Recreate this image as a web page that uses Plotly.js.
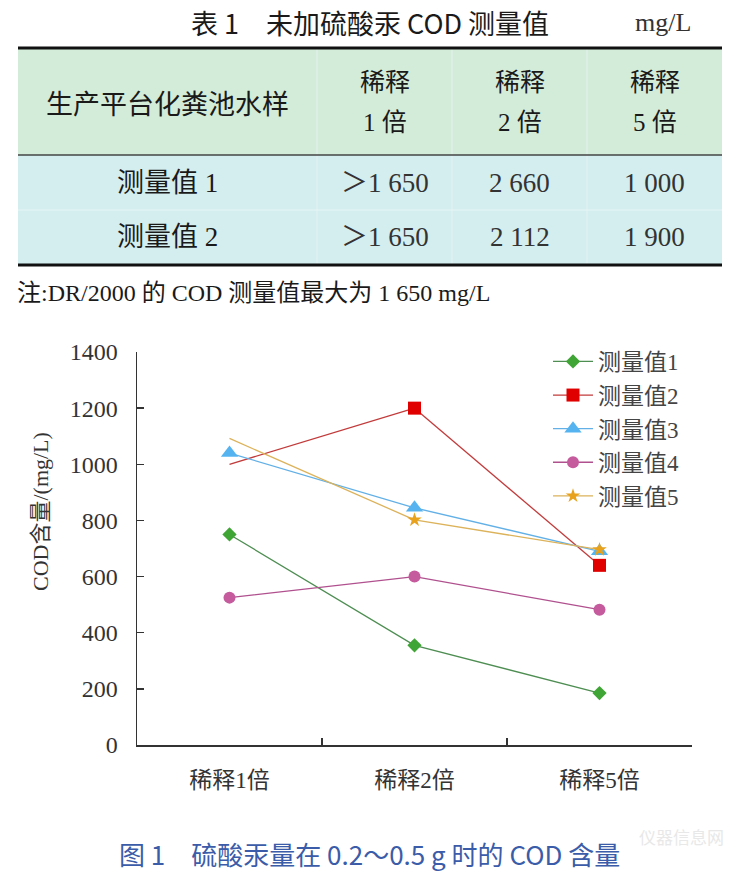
<!DOCTYPE html>
<html><head><meta charset="utf-8">
<script src="https://cdn.plot.ly/plotly-3.0.1.min.js"></script>
<style>html,body{margin:0;padding:0;background:#fff}#chart{width:737px;height:873px}</style>
</head><body><div id="chart"></div>
<script>
// ---- chart data ----
const categories = ['稀释1倍', '稀释2倍', '稀释5倍'];
const seriesNames = ['测量值1', '测量值2', '测量值3', '测量值4', '测量值5'];
const s1 = [750, 355, 185];
const s2 = [1000, 1200, 640];
const s3 = [1040, 845, 690];
const s4 = [525, 600, 482];
const s5 = [1092, 802, 696];
const yTicks = [0, 200, 400, 600, 800, 1000, 1200, 1400];
const yTitle = 'COD含量/(mg/L)';

// ---- table data ----
const tableTitle = '表 1　未加硫酸汞 COD 测量值';
const tableUnit = 'mg/L';
const headFirst = '生产平台化粪池水样';
const headTop = ['稀释', '稀释', '稀释'];
const headBottom = ['1 倍', '2 倍', '5 倍'];
const rowLabels = ['测量值 1', '测量值 2'];
const colDil1 = ['＞1 650', '＞1 650'];
const colDil2 = ['2 660', '2 112'];
const colDil5 = ['1 000', '1 900'];
const tableNote = '注:DR/2000 的 COD 测量值最大为 1 650 mg/L';
const caption = '图 1　硫酸汞量在 0.2～0.5 g 时的 COD 含量';
const watermark = '仪器信息网';

// ---- geometry helpers (page pixels -> paper) ----
const W = 737, H = 873;
const X = p => p / W;
const Y = p => 1 - p / H;

const SERIF = '"Liberation Serif", "Times New Roman", "Noto Sans CJK SC", serif';
const SANS = '"Noto Sans CJK SC", "Noto Sans", sans-serif';
const MIX = '"Liberation Serif", "Noto Sans CJK SC", serif';

const colEdges = [18, 317, 452, 587, 722];
const rowEdges = [48, 155, 210, 265];
const colCenter = i => (colEdges[i] + colEdges[i + 1]) / 2;
const rowCenter = i => (rowEdges[i] + rowEdges[i + 1]) / 2;

const shapes = [];
const annotations = [];

// table backgrounds
shapes.push({type: 'rect', xref: 'paper', yref: 'paper', x0: X(colEdges[0]), x1: X(colEdges[4]), y0: Y(rowEdges[0]), y1: Y(rowEdges[1]), fillcolor: '#d3ecd9', line: {width: 0}, layer: 'below'});
shapes.push({type: 'rect', xref: 'paper', yref: 'paper', x0: X(colEdges[0]), x1: X(colEdges[4]), y0: Y(rowEdges[1]), y1: Y(rowEdges[3]), fillcolor: '#d4eef0', line: {width: 0}, layer: 'below'});
for (let i = 1; i < 4; i++) {
  shapes.push({type: 'line', xref: 'paper', yref: 'paper', x0: X(colEdges[i]), x1: X(colEdges[i]), y0: Y(rowEdges[0]), y1: Y(rowEdges[3]), line: {color: '#e4f3ee', width: 1}});
}
shapes.push({type: 'line', xref: 'paper', yref: 'paper', x0: X(colEdges[0]), x1: X(colEdges[4]), y0: Y(rowEdges[2]), y1: Y(rowEdges[2]), line: {color: '#e6f5f5', width: 1}});
shapes.push({type: 'line', xref: 'paper', yref: 'paper', x0: X(colEdges[0]), x1: X(colEdges[4]), y0: Y(rowEdges[1]), y1: Y(rowEdges[1]), line: {color: '#444', width: 1.5}});
shapes.push({type: 'line', xref: 'paper', yref: 'paper', x0: X(colEdges[0]), x1: X(colEdges[4]), y0: Y(rowEdges[0]), y1: Y(rowEdges[0]), line: {color: '#111', width: 3}});
shapes.push({type: 'line', xref: 'paper', yref: 'paper', x0: X(colEdges[0]), x1: X(colEdges[4]), y0: Y(rowEdges[3]), y1: Y(rowEdges[3]), line: {color: '#111', width: 3}});

function txt(text, px, py, size, family, color, extra) {
  annotations.push(Object.assign({text: text, xref: 'paper', yref: 'paper', x: X(px), y: Y(py), showarrow: false, xanchor: 'center', yanchor: 'middle', font: {size: size, family: family, color: color || '#1a1a1a'}}, extra || {}));
}

// table title + unit
txt(tableTitle, 370, 22, 27, SANS, '#1a1a1a');
txt(tableUnit, 663, 22, 26, SERIF, '#333');
// header
txt(headFirst, colCenter(0), 102, 27, SANS, '#1a1a1a');
for (let i = 0; i < 3; i++) {
  txt(headTop[i], colCenter(i + 1), 80, 25, SANS, '#1a1a1a');
  txt(headBottom[i], colCenter(i + 1), 123, 25, MIX, '#1a1a1a');
}
// body
const bodyCols = [colDil1, colDil2, colDil5];
for (let r = 0; r < rowLabels.length; r++) {
  txt(rowLabels[r], colCenter(0), rowCenter(r + 1), 27, MIX, '#1a1a1a');
  for (let c = 0; c < 3; c++) {
    txt(bodyCols[c][r], colCenter(c + 1), rowCenter(r + 1), 27, MIX, '#333');
  }
}
// note
txt(tableNote, 15, 293, 24, MIX, '#1a1a1a', {xanchor: 'left'});
// y axis title
txt(yTitle, 40, 512, 22, MIX, '#333', {textangle: -90});
// caption
txt(caption, 369, 853, 26, SANS, '#3b5ca8');
// watermark
txt(watermark, 726, 836, 17, SANS, '#e8e8e8', {xanchor: 'right'});

// ---- traces ----
const lineW = 1.3;
const traces = [
  {name: seriesNames[0], legendgroup: 'g1', x: categories, y: s1, mode: 'lines+markers',
   line: {color: '#4e8e52', width: lineW}, marker: {symbol: 'diamond', size: 11, color: '#3fa535'}},
  {name: seriesNames[1], legendgroup: 'g2', showlegend: false, x: categories.slice(0, 2), y: s2.slice(0, 2), mode: 'lines',
   line: {color: '#c23b3b', width: lineW}},
  {name: seriesNames[1], legendgroup: 'g2', x: categories.slice(1), y: s2.slice(1), mode: 'lines+markers',
   line: {color: '#c23b3b', width: lineW}, marker: {symbol: 'square', size: 13, color: '#e00000'}},
  {name: seriesNames[2], legendgroup: 'g3', x: categories, y: s3, mode: 'lines+markers',
   line: {color: '#62b0e6', width: lineW}, marker: {symbol: 'triangle-up', size: 15, color: '#55b4f0'}},
  {name: seriesNames[3], legendgroup: 'g4', x: categories, y: s4, mode: 'lines+markers',
   line: {color: '#b0508e', width: lineW}, marker: {symbol: 'circle', size: 12, color: '#c55a9d'}},
  {name: seriesNames[4], legendgroup: 'g5', showlegend: false, x: categories.slice(0, 2), y: s5.slice(0, 2), mode: 'lines',
   line: {color: '#dcb25a', width: lineW}},
  {name: seriesNames[4], legendgroup: 'g5', x: categories.slice(1), y: s5.slice(1), mode: 'lines+markers',
   line: {color: '#dcb25a', width: lineW}, marker: {symbol: 'star', size: 11, color: '#e9a21c'}}
];

const layout = {
  width: W, height: H,
  margin: {l: 0, r: 0, t: 0, b: 0},
  paper_bgcolor: '#fff', plot_bgcolor: '#fff',
  showlegend: true,
  legend: {x: X(548), y: Y(340), xanchor: 'left', yanchor: 'top', traceorder: 'grouped', tracegroupgap: 0.7,
           itemwidth: 40,
           font: {size: 23, family: MIX, color: '#444'}, bgcolor: 'rgba(0,0,0,0)'},
  xaxis: {type: 'category', domain: [X(137), X(692)], range: [-0.5, 2.5], tickson: 'boundaries',
          ticks: 'inside', ticklen: 7, tickcolor: '#333', tickwidth: 1.3, showline: true, linecolor: '#333', linewidth: 1.5,
          showgrid: false, zeroline: false, tickfont: {size: 23, family: MIX, color: '#333'}, ticklabelstandoff: 14},
  yaxis: {domain: [Y(745), Y(352)], range: [0, 1400], tickvals: yTicks, ticktext: yTicks.map(String),
          ticks: 'inside', ticklen: 7, tickcolor: '#333', tickwidth: 1.3, showline: true, linecolor: '#333', linewidth: 1.5,
          showgrid: false, zeroline: false, tickfont: {size: 24, family: SERIF, color: '#333'}, ticklabelstandoff: 13},
  shapes: shapes,
  annotations: annotations
};

Plotly.newPlot('chart', traces, layout, {displayModeBar: false, staticPlot: true});
</script>
</body></html>
